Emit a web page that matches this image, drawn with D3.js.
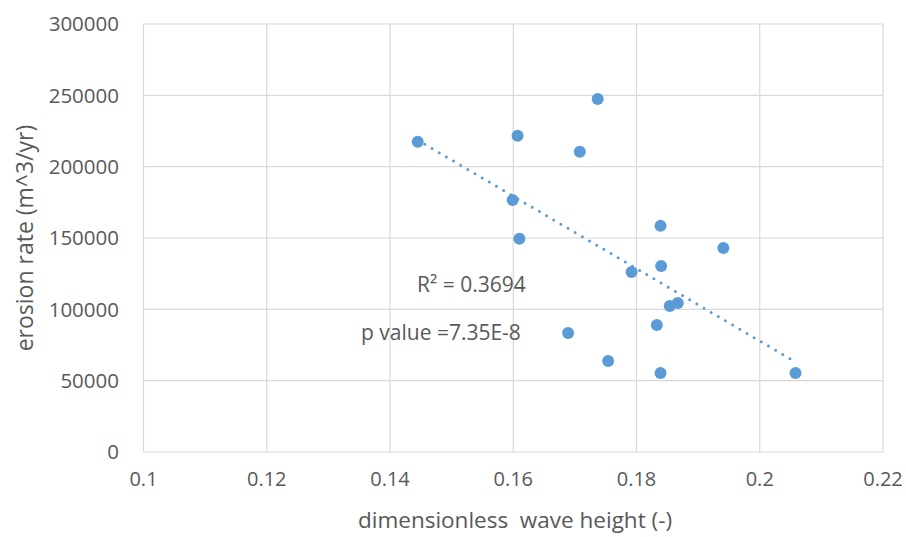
<!DOCTYPE html>
<html><head><meta charset="utf-8">
<script src="https://cdn.jsdelivr.net/npm/d3@7"></script>
<style>body{margin:0;background:#fff}text{font-family:"Open Sans",sans-serif;fill:#595959;white-space:pre}</style>
</head><body>
<svg id="c" width="906" height="537"></svg>
<script>
const waveHeight = [0.1445,0.1607,0.1737,0.1708,0.1599,0.1610,0.1839,0.1941,0.1840,0.1792,0.1854,0.1867,0.1833,0.1689,0.1754,0.1839,0.2058];
const erosionRate = [217400,221600,247500,210400,176700,149400,158500,143000,130400,126200,102400,104500,89000,83400,63800,55400,55400];
const xTicks = [0.1,0.12,0.14,0.16,0.18,0.2,0.22];
const yTicks = [0,50000,100000,150000,200000,250000,300000];
const xTitle = "dimensionless  wave height (-)";
const yTitle = "erosion rate (m^3/yr)";
const rText = "R² = 0.3694";
const pText = "p value =7.35E-8";

const svg = d3.select("#c");
const x = d3.scaleLinear().domain([0.1,0.22]).range([143.5,883]);
const y = d3.scaleLinear().domain([0,300000]).range([452,24]);
const col = "#5B9BD5";

// gridlines
svg.append("g").selectAll("line").data(xTicks).join("line")
  .attr("x1",d=>x(d)).attr("x2",d=>x(d)).attr("y1",y(0)).attr("y2",y(300000))
  .attr("stroke","#d9d9d9").attr("stroke-width",1.2);
svg.append("g").selectAll("line").data(yTicks).join("line")
  .attr("y1",d=>y(d)).attr("y2",d=>y(d)).attr("x1",x(0.1)).attr("x2",x(0.22))
  .attr("stroke","#d9d9d9").attr("stroke-width",1.2);

// tick labels
svg.append("g").selectAll("text").data(yTicks).join("text")
  .attr("x",119).attr("y",d=>y(d)).attr("dy","0.36em").attr("text-anchor","end")
  .attr("font-size",20.5).text(d=>d3.format("d")(d));
svg.append("g").selectAll("text").data(xTicks).join("text")
  .attr("x",d=>x(d)).attr("y",486).attr("text-anchor","middle")
  .attr("font-size",20).text(d=>String(+d.toFixed(2)));

// titles
svg.append("text").attr("x",515).attr("y",528).attr("text-anchor","middle").attr("font-size",22.5).text(xTitle);
svg.append("text").attr("transform","translate(33,238) rotate(-90)").attr("text-anchor","middle").attr("font-size",23).text(yTitle);

// trendline (least squares)
const n = waveHeight.length;
const mx = d3.mean(waveHeight), my = d3.mean(erosionRate);
let sxy=0,sxx=0;
for(let i=0;i<n;i++){sxy+=(waveHeight[i]-mx)*(erosionRate[i]-my);sxx+=(waveHeight[i]-mx)**2;}
const b = sxy/sxx, a = my-b*mx;
const x0 = d3.min(waveHeight), x1 = d3.max(waveHeight);
svg.append("line").attr("x1",x(x0)).attr("y1",y(a+b*x0)).attr("x2",x(x1)).attr("y2",y(a+b*x1))
  .attr("stroke",col).attr("stroke-width",3).attr("stroke-linecap","round").attr("stroke-dasharray","0,8.3");

// points
svg.append("g").selectAll("circle").data(waveHeight).join("circle")
  .attr("cx",d=>x(d)).attr("cy",(d,i)=>y(erosionRate[i])).attr("r",6).attr("fill",col);

// annotations
svg.append("text").attr("x",417).attr("y",292).attr("font-size",21).text(rText);
svg.append("text").attr("x",361).attr("y",340).attr("font-size",21).text(pText);
</script>
</body></html>
